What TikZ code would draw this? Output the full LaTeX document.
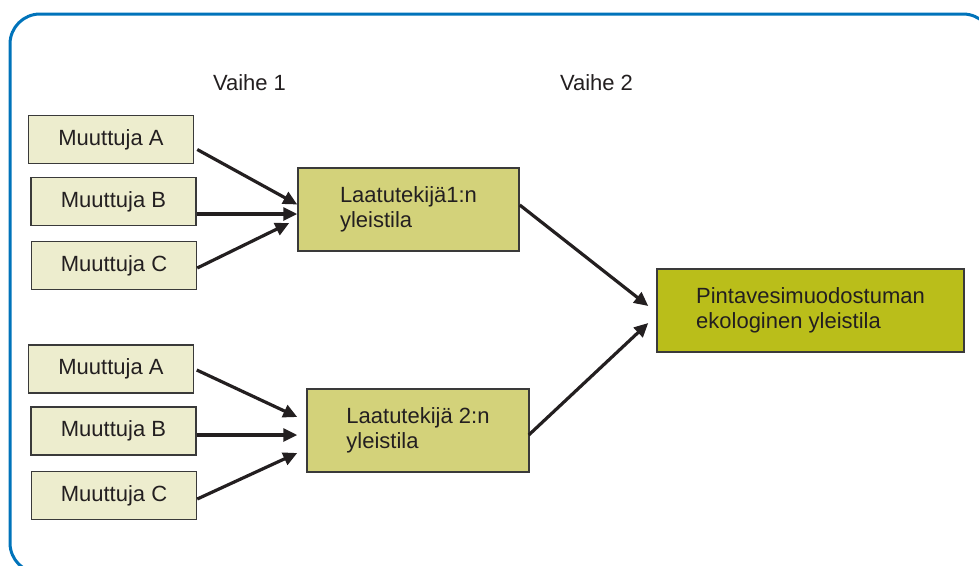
\documentclass[tikz,border=0pt]{standalone}
\usepackage{fontspec}
\setmainfont{Liberation Sans}
\usepackage{tikz}
\usetikzlibrary{arrows.meta,calc}
\definecolor{frameB}{RGB}{0,115,186}
\definecolor{varF}{RGB}{237,237,206}
\definecolor{qualF}{RGB}{211,210,122}
\definecolor{totF}{RGB}{186,190,26}
\definecolor{txtK}{RGB}{35,31,32}
\definecolor{edgeK}{RGB}{58,58,58}

\begin{document}
\begin{tikzpicture}[x=1pt,y=-1pt,>={Triangle[length=14pt,width=13pt]},
  every node/.style={font=\fontsize{22}{25.5}\selectfont,text=txtK},
  mbox/.style={draw=edgeK,line width=1.5pt,fill=varF,minimum width=165pt,minimum height=48pt,inner sep=0pt},
  qbox/.style={draw=edgeK,line width=1.5pt,fill=qualF,minimum width=221pt,minimum height=83pt,align=left,inner sep=0pt},
  tbox/.style={draw=edgeK,line width=1.5pt,fill=totF,minimum width=307pt,minimum height=83pt,align=left,inner sep=0pt},
  flow/.style={->,line width=3.2pt,txtK}]
\useasboundingbox (0,0) rectangle (979,565);
\clip (0,0) rectangle (979,565);
% rounded frame
\draw[frameB,line width=3pt,rounded corners=30pt] (10,14) rectangle (993,573);
% phase headings
\node (ph1) at (249.5,83) {Vaihe 1};
\node (ph2) at (596.5,83) {Vaihe 2};
% first group
\node[mbox] (a1) at (111,139.5) {Muuttuja A};
\node[mbox] (b1) at (113.5,201.5) {Muuttuja B};
\node[mbox] (c1) at (114,265.5) {Muuttuja C};
\node[qbox] (q1) at (408.5,209.5) {Laatutekijä1:n\\yleistila};
% second group
\node[mbox] (a2) at (111,369) {Muuttuja A};
\node[mbox] (b2) at (113.5,431) {Muuttuja B};
\node[mbox] (c2) at (114,495.5) {Muuttuja C};
\node[qbox,minimum width=222pt] (q2) at (418,430.5) {Laatutekijä 2:n\\yleistila};
% total
\node[tbox] (t) at (810.5,310.5) {Pintavesimuodostuman\\ekologinen yleistila};
% arrows
\draw[flow] ($(a1.east)+(3,10)$) -- ($(q1.west)+(0,-5)$);
\draw[flow] ($(b1.east)+(0,12.5)$) -- ($(q1.west)+(0,4.5)$);
\draw[flow] ($(c1.east)+(0,2.5)$) -- ($(q1.west)+(-8,13.5)$);
\draw[flow] ($(a2.east)+(2.5,1)$) -- ($(q2.west)+(-9,-13.5)$);
\draw[flow] ($(b2.east)+(0,4)$) -- ($(q2.west)+(-9,4.5)$);
\draw[flow] ($(c2.east)+(0,3.5)$) -- ($(q2.west)+(-9,22.5)$);
\draw[flow] ($(q1.east)+(0,-4.5)$) -- ($(t.west)+(-8,-4.5)$);
\draw[flow] ($(q2.east)+(-1,4.5)$) -- ($(t.west)+(-8,12.5)$);
\end{tikzpicture}
\end{document}
